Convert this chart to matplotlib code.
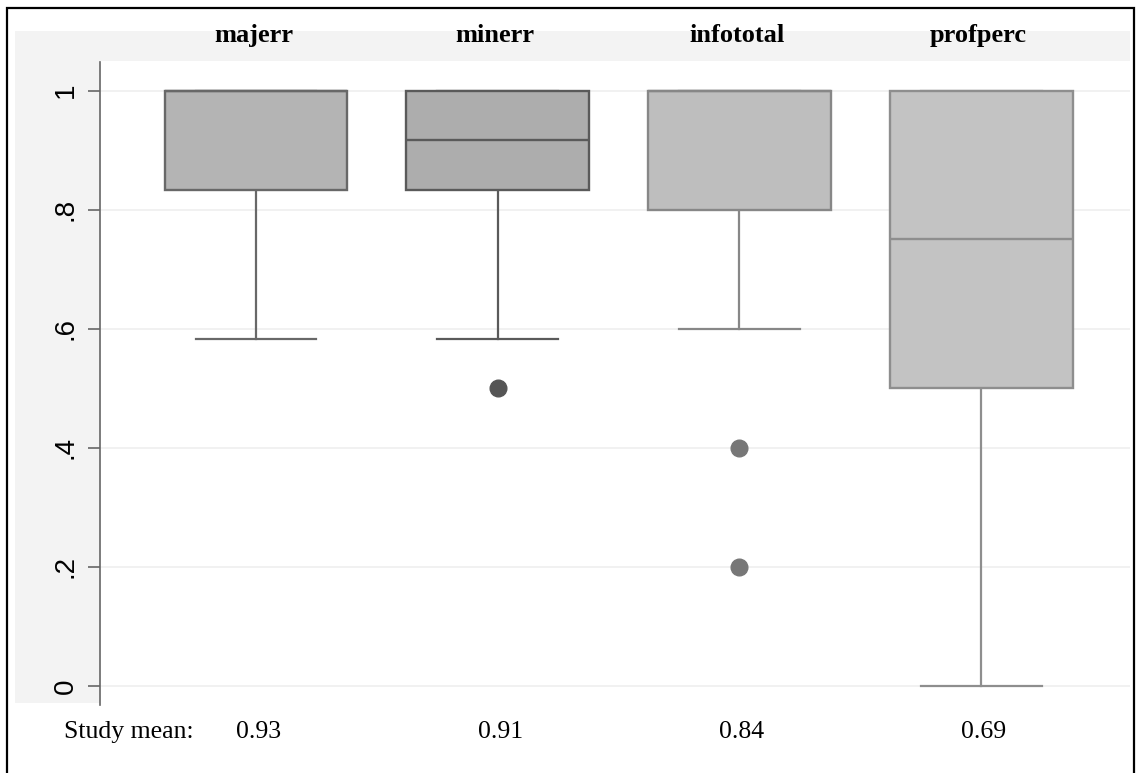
import matplotlib
matplotlib.use("Agg")
import matplotlib.pyplot as plt
from matplotlib.patches import Rectangle
from matplotlib.transforms import blended_transform_factory

# box summaries
variables = ["majerr", "minerr", "infototal", "profperc"]
q1 = [0.833, 0.833, 0.8, 0.5]
medians = [1.0, 0.917, 1.0, 0.75]
q3 = [1.0, 1.0, 1.0, 1.0]
whisker_lo = [0.583, 0.583, 0.6, 0.0]
whisker_hi = [1.0, 1.0, 1.0, 1.0]
outliers = [[], [0.5], [0.4, 0.2], []]
study_means = ["0.93", "0.91", "0.84", "0.69"]

fills = ["#b4b4b4", "#adadad", "#bebebe", "#c3c3c3"]
edges = ["#686868", "#5a5a5a", "#878787", "#8e8e8e"]
flier_colors = ["#555555", "#555555", "#777777", "#777777"]

W, H = 1138, 773
fig = plt.figure(figsize=(W / 100, H / 100), dpi=100)
fig.patch.set_facecolor("white")


def px(x0, y0, x1, y1):
    """pixel box (top-left origin) -> figure fraction rect"""
    return (x0 / W, 1 - y1 / H), (x1 - x0) / W, (y1 - y0) / H


#light grey graph region on top and left
for box in [(15, 31, 1130, 61), (15, 31, 100, 703)]:
    xy, w, h = px(*box)
    fig.patches.append(Rectangle(xy, w, h, transform=fig.transFigure,
                                 facecolor="#f3f3f3", edgecolor="none", zorder=-2))
#outer black frame
xy, w, h = px(7, 8, 1134, 790)
fig.patches.append(Rectangle(xy, w, h, transform=fig.transFigure, fill=False,
                             edgecolor="black", linewidth=1.6, zorder=-1))

(ax_x, ax_y), ax_w, ax_h = px(100, 62, 1130, 705)
ax = fig.add_axes([ax_x, ax_y, ax_w, ax_h])
ax.set_facecolor("white")

positions = [1, 2, 3, 4]
stats = []
for i, name in enumerate(variables):
    stats.append(dict(label=name, q1=q1[i], med=medians[i], q3=q3[i],
                      whislo=whisker_lo[i], whishi=whisker_hi[i],
                      fliers=outliers[i]))

parts = ax.bxp(stats, positions=positions, widths=0.757, capwidths=0.5,
               patch_artist=True, showfliers=True)

for i in range(len(variables)):
    box = parts["boxes"][i]
    box.set_facecolor(fills[i])
    box.set_edgecolor(edges[i])
    box.set_linewidth(1.7)
    box.set_zorder(3)
    parts["medians"][i].set_color(edges[i])
    parts["medians"][i].set_linewidth(1.7)
    parts["medians"][i].set_zorder(4)
    for ln in parts["whiskers"][2 * i:2 * i + 2] + parts["caps"][2 * i:2 * i + 2]:
        ln.set_color(edges[i])
        ln.set_linewidth(1.6)
        ln.set_zorder(2)
    fl = parts["fliers"][i]
    fl.set_marker("o")
    fl.set_markersize(12)
    fl.set_markerfacecolor(flier_colors[i])
    fl.set_markeredgecolor(flier_colors[i])
    fl.set_zorder(4)

ax.set_xlim(0.3546, 4.616)
ax.set_ylim(-0.0319, 1.048)

ax.set_yticks([0, 0.2, 0.4, 0.6, 0.8, 1.0])
ax.set_yticklabels(["0", ".2", ".4", ".6", ".8", "1"], rotation=90,
                   family="Liberation Sans", fontsize=20, va="center")
ax.set_xticks([])
ax.tick_params(axis="y", length=8.5, width=1.2, color="#666666", pad=7)
ax.grid(axis="y", color="#efefef", linewidth=1.2, zorder=0)
ax.set_axisbelow(True)

for side in ["top", "right", "bottom"]:
    ax.spines[side].set_visible(False)
ax.spines["left"].set_color("#666666")
ax.spines["left"].set_linewidth(1.2)

#variable titles in the top band
trans = blended_transform_factory(ax.transData, fig.transFigure)
for pos, name in zip(positions, variables):
    ax.text(pos - 0.01, 1 - 42 / H, name, transform=trans, ha="center",
            va="baseline", family="Liberation Serif", fontweight="bold",
            fontsize=19)

#study means under the plot
fig.text(64 / W, 1 - 738 / H, "Study mean:", ha="left", va="baseline",
         family="Liberation Serif", fontsize=18.5)
for pos, val in zip(positions, study_means):
    ax.text(pos + 0.01, 1 - 738 / H, val, transform=trans, ha="center",
            va="baseline", family="Liberation Serif", fontsize=18.5)

fig.savefig("out.png", dpi=100)
